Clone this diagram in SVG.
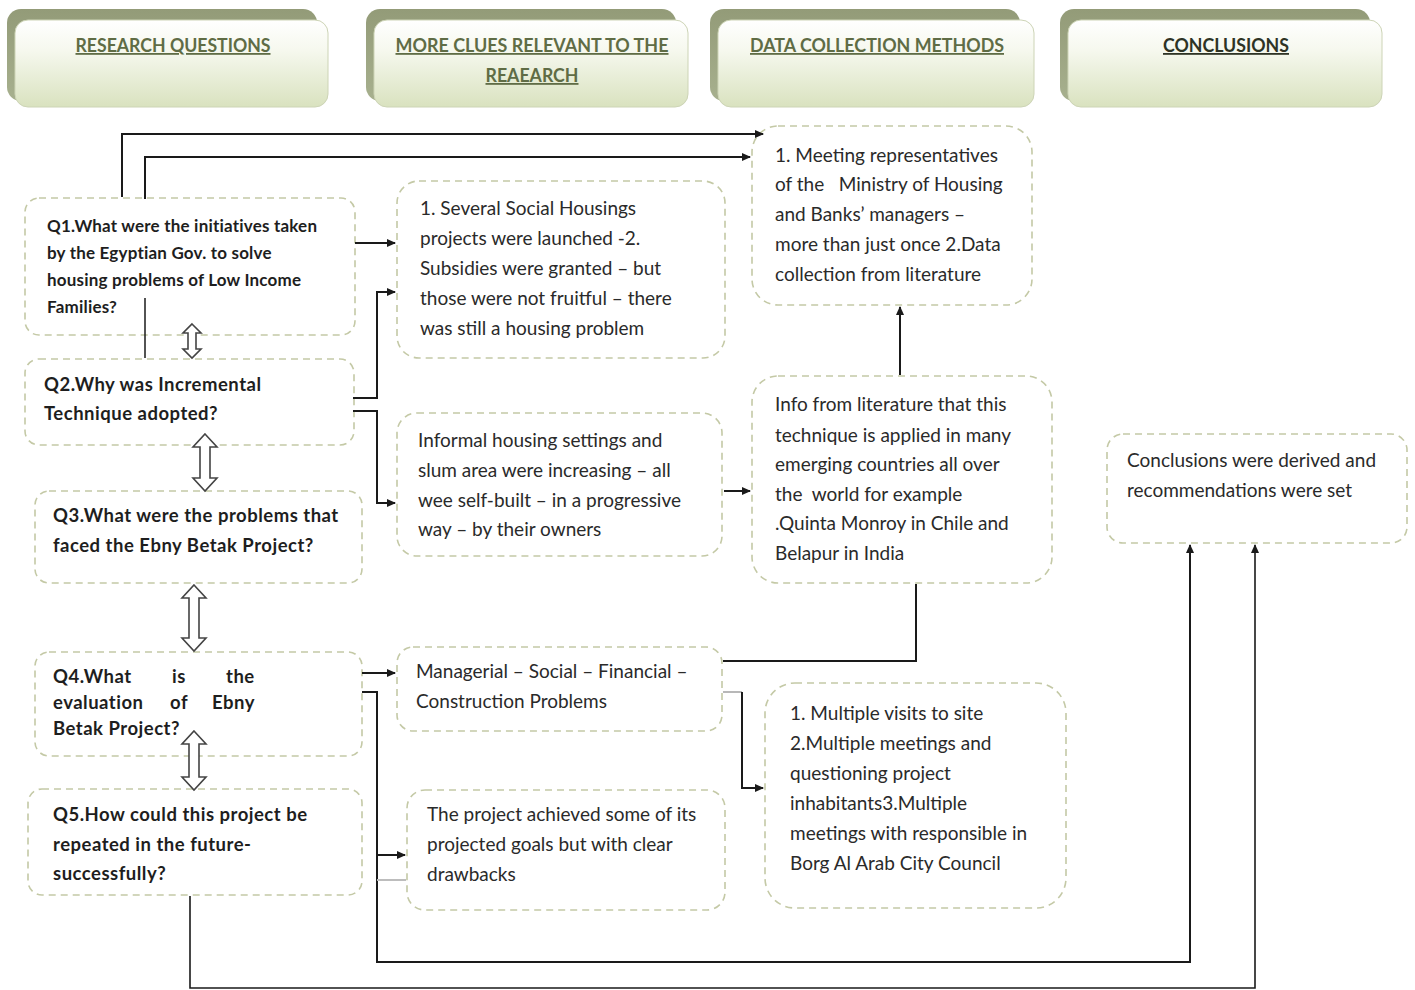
<svg xmlns="http://www.w3.org/2000/svg" width="1415" height="990" viewBox="0 0 1415 990">
<defs>
<linearGradient id="hg" x1="0" y1="0" x2="0" y2="1">
<stop offset="0" stop-color="#ffffff"/>
<stop offset="0.35" stop-color="#f6f8ee"/>
<stop offset="1" stop-color="#d9e2bf"/>
</linearGradient>
<linearGradient id="sg" x1="0" y1="0" x2="0" y2="1">
<stop offset="0" stop-color="#939b78"/>
<stop offset="1" stop-color="#a7b08e"/>
</linearGradient>
<marker id="ah" markerWidth="10" markerHeight="10" refX="8" refY="5" orient="auto" markerUnits="userSpaceOnUse">
<path d="M0,1 L9,5 L0,9 Z" fill="#1a1a1a"/>
</marker>
</defs>
<style>
.hdrS{fill:url(#sg);}
.hdrF{fill:url(#hg);stroke:#cdd4b6;stroke-width:1;}
.hdrT{font-family:Lato,"Liberation Sans",sans-serif;font-size:18px;font-weight:bold;fill:#5f6c45;text-decoration:underline;text-anchor:middle;}
.box{fill:#ffffff;stroke:#c4c9a6;stroke-width:1.6;stroke-dasharray:7,5;}
.q{font-family:Lato,"Liberation Sans",sans-serif;font-weight:bold;font-size:18.5px;letter-spacing:0.5px;fill:#1e1e1e;}
.q1{font-size:17px;letter-spacing:0.2px;}
.t{font-family:Lato,"Liberation Sans",sans-serif;font-size:19px;fill:#2a2a2a;}
.con{fill:none;stroke:#1a1a1a;stroke-width:2;}
.dbl{fill:#ffffff;stroke:#444444;stroke-width:1.6;}
</style>
<rect width="1415" height="990" fill="#ffffff"/>

<g id="hdr1">
<rect class="hdrS" x="7" y="9" width="310" height="92" rx="14"/>
<rect class="hdrF" x="15" y="20" width="313" height="87" rx="13"/>
<text class="hdrT" x="173" y="52" textLength="195" lengthAdjust="spacingAndGlyphs">RESEARCH QUESTIONS</text>
</g>
<g id="hdr2">
<rect class="hdrS" x="366" y="9" width="310" height="92" rx="14"/>
<rect class="hdrF" x="374" y="20" width="314" height="87" rx="13"/>
<text class="hdrT" x="532" y="52" textLength="273" lengthAdjust="spacingAndGlyphs">MORE CLUES RELEVANT TO THE</text>
<text class="hdrT" x="532" y="82" textLength="93" lengthAdjust="spacingAndGlyphs">REAEARCH</text>
</g>
<g id="hdr3">
<rect class="hdrS" x="710" y="9" width="310" height="92" rx="14"/>
<rect class="hdrF" x="718" y="20" width="316" height="87" rx="13"/>
<text class="hdrT" x="877" y="52" textLength="254" lengthAdjust="spacingAndGlyphs">DATA COLLECTION METHODS</text>
</g>
<g id="hdr4">
<rect class="hdrS" x="1060" y="9" width="310" height="92" rx="14"/>
<rect class="hdrF" x="1068" y="20" width="314" height="87" rx="13"/>
<text class="hdrT" x="1226" y="52" textLength="126" lengthAdjust="spacingAndGlyphs" style="fill:#2e3325">CONCLUSIONS</text>
</g>

<g id="q1">
<rect class="box" x="25" y="198" width="330" height="137" rx="14"/>
<text class="q q1" x="47" y="232">Q1.What were the initiatives taken</text>
<text class="q q1" x="47" y="259">by the Egyptian Gov. to solve</text>
<text class="q q1" x="47" y="286">housing problems of Low Income</text>
<text class="q q1" x="47" y="313">Families?</text>
</g>
<g id="q2">
<rect class="box" x="25" y="359" width="329" height="86" rx="14"/>
<text class="q" x="44" y="391">Q2.Why was Incremental</text>
<text class="q" x="44" y="420">Technique adopted?</text>
</g>
<g id="q3">
<rect class="box" x="35" y="491" width="327" height="92" rx="14"/>
<text class="q" x="53" y="522">Q3.What were the problems that</text>
<text class="q" x="53" y="552">faced the Ebny Betak Project?</text>
</g>
<g id="q4">
<rect class="box" x="35" y="652" width="327" height="104" rx="14"/>
<text class="q" x="53" y="683">Q4.What</text>
<text class="q" x="172" y="683">is</text>
<text class="q" x="226" y="683">the</text>
<text class="q" x="53" y="709">evaluation</text>
<text class="q" x="170" y="709">of</text>
<text class="q" x="212" y="709">Ebny</text>
<text class="q" x="53" y="735">Betak Project?</text>
</g>
<g id="q5">
<rect class="box" x="28" y="789" width="334" height="106" rx="14"/>
<text class="q" x="53" y="821">Q5.How could this project be</text>
<text class="q" x="53" y="851">repeated in the future-</text>
<text class="q" x="53" y="880">successfully?</text>
</g>

<g id="dblarrows">
<polygon class="dbl" points="192,324 201,333 196,333 196,349 201,349 192,358 183,349 188,349 188,333 183,333"/>
<polygon class="dbl" points="205,434 217,447 210,447 210,478 217,478 205,491 193,478 200,478 200,447 193,447"/>
<polygon class="dbl" points="194,585 206,598 199,598 199,638 206,638 194,651 182,638 189,638 189,598 182,598"/>
<polygon class="dbl" points="194,731 206,744 199,744 199,777 206,777 194,790 182,777 189,777 189,744 182,744"/>
</g>

<g id="boxA">
<rect class="box" x="397" y="181" width="328" height="177" rx="22"/>
<text class="t" x="420" y="215">1. Several Social Housings</text>
<text class="t" x="420" y="245">projects were launched -2.</text>
<text class="t" x="420" y="275">Subsidies were granted – but</text>
<text class="t" x="420" y="305">those were not fruitful – there</text>
<text class="t" x="420" y="335">was still a housing problem</text>
</g>
<g id="boxDC1">
<rect class="box" x="752" y="126" width="280" height="179" rx="26"/>
<text class="t" x="775" y="162">1. Meeting representatives</text>
<text class="t" x="775" y="191" xml:space="preserve">of the   Ministry of Housing</text>
<text class="t" x="775" y="221">and Banks’ managers –</text>
<text class="t" x="775" y="251">more than just once 2.Data</text>
<text class="t" x="775" y="281">collection from literature</text>
</g>
<g id="boxB">
<rect class="box" x="397" y="413" width="325" height="143" rx="20"/>
<text class="t" x="418" y="447">Informal housing settings and</text>
<text class="t" x="418" y="477">slum area were increasing – all</text>
<text class="t" x="418" y="507">wee self-built – in a progressive</text>
<text class="t" x="418" y="536">way – by their owners</text>
</g>
<g id="boxC">
<rect class="box" x="752" y="376" width="300" height="207" rx="26"/>
<text class="t" x="775" y="411">Info from literature that this</text>
<text class="t" x="775" y="442">technique is applied in many</text>
<text class="t" x="775" y="471">emerging countries all over</text>
<text class="t" x="775" y="501" xml:space="preserve">the  world for example</text>
<text class="t" x="775" y="530">.Quinta Monroy in Chile and</text>
<text class="t" x="775" y="560">Belapur in India</text>
</g>
<g id="boxD">
<rect class="box" x="397" y="647" width="325" height="84" rx="16"/>
<text class="t" x="416" y="678">Managerial – Social – Financial –</text>
<text class="t" x="416" y="708">Construction Problems</text>
</g>
<g id="boxE">
<rect class="box" x="407" y="790" width="318" height="120" rx="18"/>
<text class="t" x="427" y="821">The project achieved some of its</text>
<text class="t" x="427" y="851">projected goals but with clear</text>
<text class="t" x="427" y="881">drawbacks</text>
</g>
<g id="boxF">
<rect class="box" x="765" y="683" width="301" height="225" rx="30"/>
<text class="t" x="790" y="720">1. Multiple visits to site</text>
<text class="t" x="790" y="750">2.Multiple meetings and</text>
<text class="t" x="790" y="780">questioning project</text>
<text class="t" x="790" y="810">inhabitants3.Multiple</text>
<text class="t" x="790" y="840">meetings with responsible in</text>
<text class="t" x="790" y="870">Borg Al Arab City Council</text>
</g>
<g id="boxG">
<rect class="box" x="1107" y="434" width="300" height="109" rx="16"/>
<text class="t" x="1127" y="467">Conclusions were derived and</text>
<text class="t" x="1127" y="497">recommendations were set</text>
</g>

<g id="connectors">
<path class="con" d="M122,197 V134 H763" marker-end="url(#ah)"/>
<path class="con" d="M145,199 V157 H750" marker-end="url(#ah)"/>
<path class="con" d="M145,358 V298" style="stroke-width:1.5"/>
<path class="con" d="M355,243 H395" marker-end="url(#ah)"/>
<path class="con" d="M353,398 H377 V292 H395" marker-end="url(#ah)"/>
<path class="con" d="M353,411 H377 V503 H395" marker-end="url(#ah)"/>
<path class="con" d="M724,491 H750" marker-end="url(#ah)"/>
<path class="con" d="M900,375 V307" marker-end="url(#ah)"/>
<path class="con" d="M916,584 V661 H723"/>
<path class="con" d="M362,673 H395" marker-end="url(#ah)"/>
<path class="con" d="M362,692 H377 V962 H1190 V545" marker-end="url(#ah)"/>
<path class="con" d="M377,855 H405" marker-end="url(#ah)"/>
<path class="con" d="M190,896 V988 H1255 V545" marker-end="url(#ah)" style="stroke-width:1.6"/>
<path class="con" d="M723,692 H742" style="stroke:#b8b8b8"/>
<path class="con" d="M742,692 V788 H763" marker-end="url(#ah)"/>
<path class="con" d="M377,880 H406" style="stroke:#bdbdbd"/>
</g>
</svg>
